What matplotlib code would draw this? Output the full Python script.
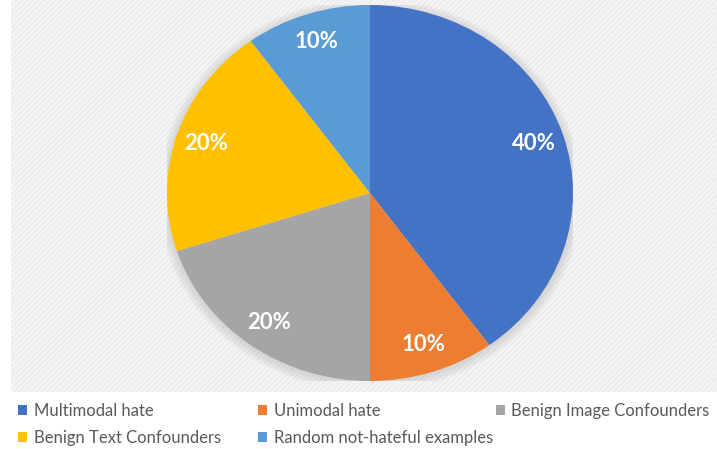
import matplotlib.pyplot as plt
from matplotlib.patches import Patch, Rectangle, Ellipse

plt.rcParams['font.family'] = ['Lato', 'DejaVu Sans']

labels = ['Multimodal hate', 'Unimodal hate', 'Benign Image Confounders',
          'Benign Text Confounders', 'Random not-hateful examples']
shares = [40, 10, 20, 20, 10]
colors = ['#4472C4', '#ED7D31', '#A5A5A5', '#FFC000', '#5B9BD5']

fig = plt.figure(figsize=(7.17, 4.49), dpi=100)
fig.patch.set_facecolor('white')

# light striped plot area behind the pie
bg = fig.add_axes([0, 0, 1, 1], zorder=-5)
bg.set_xlim(0, 717)
bg.set_ylim(449, 0)
bg.axis('off')
bg.add_patch(Rectangle((11, 0), 706, 392, facecolor='#f4f4f4',
                       edgecolor='#ebebeb', hatch='//////', lw=0))

ax = fig.add_axes([167/717, 68/449, 406/717, 376/449])
ax.patch.set_alpha(0)

# soft shadow around the pie
for k in range(8):
    s = 2.0 + 0.012 * (k + 1)
    ax.add_patch(Ellipse((0, -0.01), s, s, facecolor='#9a9a9a', alpha=0.04,
                         lw=0, zorder=0))

wedges, texts, autotexts = ax.pie(
    shares, colors=colors, startangle=90, counterclock=False, radius=1,
    autopct='%d%%', pctdistance=0.85,
    wedgeprops=dict(linewidth=0),
    textprops=dict(color='white', fontsize=16, fontweight='bold'))
ax.set_aspect('auto')
ax.set_xlim(-1, 1)
ax.set_ylim(-1, 1)
ax.axis('off')

# legend laid out as three columns, filled row by row
columns = [[0, 3], [1, 4], [2]]
col_x = [11, 251, 489]
for idx, x in zip(columns, col_x):
    handles = [Patch(facecolor=colors[i], edgecolor='none') for i in idx]
    leg = fig.legend(handles, [labels[i] for i in idx], loc='upper left',
                     bbox_to_anchor=(x/717, 1 - 396/449), frameon=False,
                     fontsize=12, handlelength=0.55, handleheight=0.55,
                     handletextpad=0.4, labelspacing=0.66, borderaxespad=0)
    for t in leg.get_texts():
        t.set_color('#595959')

fig.savefig('out.png', dpi=100)
